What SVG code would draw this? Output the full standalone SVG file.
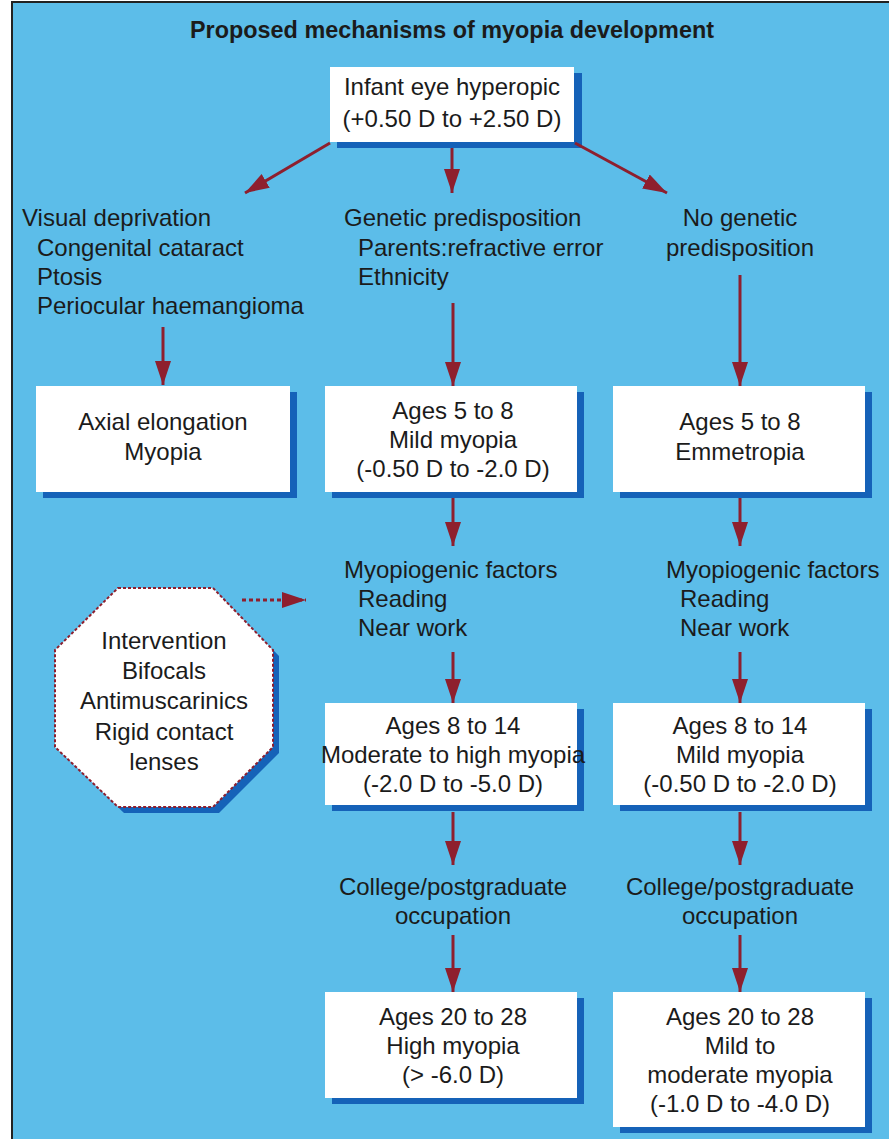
<svg xmlns="http://www.w3.org/2000/svg" width="889" height="1139" viewBox="0 0 889 1139">
<defs>
<style>
.t{font-family:"Liberation Sans",Arial,sans-serif;font-size:24px;fill:#1b1b1b}
.c{text-anchor:middle}
.title{font-family:"Liberation Sans",Arial,sans-serif;font-size:24px;font-weight:bold;fill:#1b1b1b;text-anchor:middle}
.box{fill:#ffffff}
.sh{fill:#1562b8}
.ln{stroke:#8e1f2e;stroke-width:3;fill:none}
</style>
<marker id="ah" markerUnits="userSpaceOnUse" markerWidth="26" markerHeight="18" refX="24" refY="8" orient="auto">
<path d="M0,0 L24,8 L0,16 Z" fill="#8e1f2e"/>
</marker>
</defs>
<rect x="0" y="0" width="889" height="1139" fill="#ffffff"/>
<rect x="12" y="2" width="890" height="1150" fill="#5cbde9" stroke="#222" stroke-width="2"/>
<text class="title" x="452" y="38" textLength="524" lengthAdjust="spacingAndGlyphs">Proposed mechanisms of myopia development</text>

<g id="n-infant">
<rect class="sh" x="337" y="73" width="245" height="75"/>
<rect class="box" x="330" y="67" width="244" height="75"/>
<text class="t c" x="452" y="95">Infant eye hyperopic</text>
<text class="t c" x="452" y="127">(+0.50 D to +2.50 D)</text>
</g>

<g id="n-visual">
<text class="t" x="22" y="226">Visual deprivation</text>
<text class="t" x="37" y="256">Congenital cataract</text>
<text class="t" x="37" y="285">Ptosis</text>
<text class="t" x="37" y="314">Periocular haemangioma</text>
</g>
<g id="n-genetic">
<text class="t" x="344" y="226">Genetic predisposition</text>
<text class="t" x="358" y="256">Parents:refractive error</text>
<text class="t" x="358" y="285">Ethnicity</text>
</g>
<g id="n-nogenetic">
<text class="t c" x="740" y="226">No genetic</text>
<text class="t c" x="740" y="256">predisposition</text>
</g>

<g id="n-axial">
<rect class="sh" x="43" y="392" width="254" height="106"/>
<rect class="box" x="36" y="386" width="254" height="106"/>
<text class="t c" x="163" y="430">Axial elongation</text>
<text class="t c" x="163" y="460">Myopia</text>
</g>
<g id="n-mild58">
<rect class="sh" x="332" y="392" width="252" height="106"/>
<rect class="box" x="325" y="386" width="252" height="106"/>
<text class="t c" x="453" y="419">Ages 5 to 8</text>
<text class="t c" x="453" y="448">Mild myopia</text>
<text class="t c" x="453" y="477">(-0.50 D to -2.0 D)</text>
</g>
<g id="n-emm58">
<rect class="sh" x="620" y="392" width="252" height="106"/>
<rect class="box" x="613" y="386" width="252" height="106"/>
<text class="t c" x="740" y="430">Ages 5 to 8</text>
<text class="t c" x="740" y="460">Emmetropia</text>
</g>

<g id="n-myofac1">
<text class="t" x="344" y="578">Myopiogenic factors</text>
<text class="t" x="358" y="607">Reading</text>
<text class="t" x="358" y="636">Near work</text>
</g>
<g id="n-myofac2">
<text class="t" x="666" y="578">Myopiogenic factors</text>
<text class="t" x="680" y="607">Reading</text>
<text class="t" x="680" y="636">Near work</text>
</g>

<g id="n-intervention">
<polygon class="sh" points="124,594 219,594 279,656 279,753 219,813 124,813 61,753 61,656"/>
<polygon points="118,588 213,588 273,650 273,747 213,807 118,807 55,747 55,650" fill="#ffffff" stroke="#8e1f2e" stroke-width="2" stroke-dasharray="3,2"/>
<text class="t c" x="164" y="649">Intervention</text>
<text class="t c" x="164" y="679">Bifocals</text>
<text class="t c" x="164" y="709">Antimuscarinics</text>
<text class="t c" x="164" y="740">Rigid contact</text>
<text class="t c" x="164" y="770">lenses</text>
</g>

<g id="n-mod814">
<rect class="sh" x="332" y="709" width="252" height="102"/>
<rect class="box" x="325" y="703" width="252" height="102"/>
<text class="t c" x="453" y="734">Ages 8 to 14</text>
<text class="t c" x="453" y="763">Moderate to high myopia</text>
<text class="t c" x="453" y="792">(-2.0 D to -5.0 D)</text>
</g>
<g id="n-mild814">
<rect class="sh" x="620" y="709" width="252" height="102"/>
<rect class="box" x="613" y="703" width="252" height="102"/>
<text class="t c" x="740" y="734">Ages 8 to 14</text>
<text class="t c" x="740" y="763">Mild myopia</text>
<text class="t c" x="740" y="792">(-0.50 D to -2.0 D)</text>
</g>

<g id="n-college1">
<text class="t c" x="453" y="895">College/postgraduate</text>
<text class="t c" x="453" y="924">occupation</text>
</g>
<g id="n-college2">
<text class="t c" x="740" y="895">College/postgraduate</text>
<text class="t c" x="740" y="924">occupation</text>
</g>

<g id="n-high2028">
<rect class="sh" x="332" y="998" width="252" height="106"/>
<rect class="box" x="325" y="992" width="252" height="106"/>
<text class="t c" x="453" y="1025">Ages 20 to 28</text>
<text class="t c" x="453" y="1054">High myopia</text>
<text class="t c" x="453" y="1083">(&gt; -6.0 D)</text>
</g>
<g id="n-mod2028">
<rect class="sh" x="620" y="998" width="252" height="135"/>
<rect class="box" x="613" y="992" width="252" height="135"/>
<text class="t c" x="740" y="1025">Ages 20 to 28</text>
<text class="t c" x="740" y="1054">Mild to</text>
<text class="t c" x="740" y="1083">moderate myopia</text>
<text class="t c" x="740" y="1112">(-1.0 D to -4.0 D)</text>
</g>

<g id="connectors">
<line class="ln" x1="330" y1="143" x2="245" y2="193" marker-end="url(#ah)"/>
<line class="ln" x1="452" y1="148" x2="452" y2="193" marker-end="url(#ah)"/>
<line class="ln" x1="575" y1="143" x2="667" y2="193" marker-end="url(#ah)"/>
<line class="ln" x1="163" y1="327" x2="163" y2="385" marker-end="url(#ah)"/>
<line class="ln" x1="453" y1="303" x2="453" y2="386" marker-end="url(#ah)"/>
<line class="ln" x1="740" y1="275" x2="740" y2="386" marker-end="url(#ah)"/>
<line class="ln" x1="453" y1="498" x2="453" y2="546" marker-end="url(#ah)"/>
<line class="ln" x1="740" y1="498" x2="740" y2="546" marker-end="url(#ah)"/>
<line class="ln" x1="453" y1="652" x2="453" y2="703" marker-end="url(#ah)"/>
<line class="ln" x1="740" y1="652" x2="740" y2="703" marker-end="url(#ah)"/>
<line class="ln" x1="453" y1="812" x2="453" y2="865" marker-end="url(#ah)"/>
<line class="ln" x1="740" y1="812" x2="740" y2="865" marker-end="url(#ah)"/>
<line class="ln" x1="453" y1="935" x2="453" y2="992" marker-end="url(#ah)"/>
<line class="ln" x1="740" y1="935" x2="740" y2="992" marker-end="url(#ah)"/>
<line class="ln" x1="242" y1="600" x2="306" y2="600" stroke-dasharray="4,3" marker-end="url(#ah)"/>
</g>
</svg>
